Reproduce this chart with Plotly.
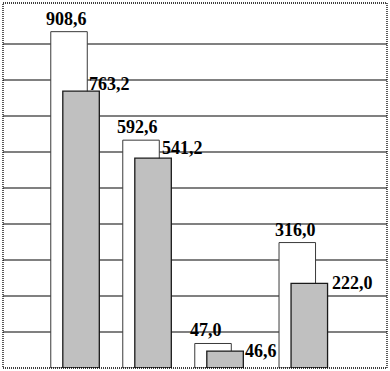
import plotly.graph_objects as go

# Data
groups = [1.0, 2.0, 3.0, 4.17]                 # group positions on x axis
white_heights = [933, 632, 68, 348]            # bar heights (axis units)
gray_heights = [768, 582, 47, 235]
white_labels = ["908,6", "592,6", "47,0", "316,0"]
gray_labels = ["763,2", "541,2", "46,6", "222,0"]
grid_vals = [100, 200, 300, 400, 500, 600, 700, 800, 900]

bar_w = 0.507
gray_off = 0.167

fig = go.Figure()
fig.add_trace(go.Bar(
    x=groups, y=white_heights, width=bar_w, offset=-bar_w / 2,
    marker=dict(color="white", line=dict(color="#3a3a3a", width=1)),
    hoverinfo="skip", showlegend=False))
fig.add_trace(go.Bar(
    x=groups, y=gray_heights, width=bar_w, offset=-bar_w / 2 + gray_off,
    marker=dict(color="#C0C0C0", line=dict(color="#1a1a1a", width=1.3)),
    hoverinfo="skip", showlegend=False))

font = dict(family="Liberation Serif, Times New Roman, serif", size=18,
            color="black", weight="bold")
w_xshift = [-3, -4, -7, -2]
g_xshift = [-12, -11, 0, 2]
g_yshift = [7, 10, 0, 0]
for i, g in enumerate(groups):
    fig.add_annotation(x=g, y=white_heights[i], text=white_labels[i],
                       xanchor="center", yanchor="bottom", showarrow=False,
                       xshift=w_xshift[i], yshift=1, font=font)
    fig.add_annotation(x=g - bar_w / 2 + gray_off + bar_w, y=gray_heights[i],
                       text=gray_labels[i], xanchor="left", yanchor="middle",
                       showarrow=False, xshift=g_xshift[i], yshift=g_yshift[i],
                       font=font)

fig.add_shape(type="rect", xref="paper", yref="paper", x0=0, x1=1, y0=0, y1=1,
              line=dict(color="black", width=1.3, dash="1px,1px"), layer="above")

fig.update_layout(
    width=390, height=371,
    margin=dict(l=3, r=3, t=3, b=3),
    paper_bgcolor="white", plot_bgcolor="white",
    barmode="overlay",
    xaxis=dict(range=[0.083, 5.416], showgrid=False, zeroline=False,
               showticklabels=False, ticks=""),
    yaxis=dict(range=[0, 1012.5], tickvals=grid_vals, showgrid=True,
               gridcolor="#808080", gridwidth=2, zeroline=False,
               showticklabels=False, ticks=""),
)

fig.write_html("out.html")
